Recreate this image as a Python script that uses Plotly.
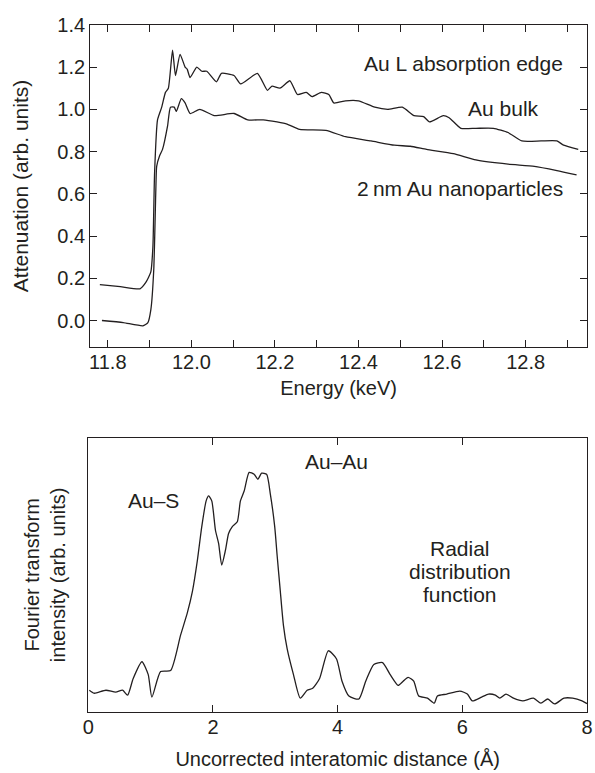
import plotly.graph_objects as go

# ---------------- data: top panel (XANES) ----------------
bulk_energy = [11.781, 11.830, 11.877, 11.891, 11.903, 11.908, 11.912, 11.919, 11.929, 11.938,
               11.945, 11.955, 11.962, 11.973, 11.985, 11.990, 11.997, 12.013, 12.025, 12.037,
               12.060, 12.072, 12.102, 12.118, 12.158, 12.182, 12.193, 12.212, 12.236, 12.254,
               12.275, 12.289, 12.311, 12.329, 12.341, 12.369, 12.400, 12.439, 12.470, 12.505,
               12.533, 12.556, 12.570, 12.603, 12.617, 12.645, 12.681, 12.723, 12.758, 12.791,
               12.837, 12.875, 12.891, 12.926]
bulk_atten = [0.170, 0.160, 0.150, 0.180, 0.230, 0.350, 0.700, 0.950, 1.010, 1.080,
              1.100, 1.280, 1.160, 1.260, 1.200, 1.190, 1.150, 1.200, 1.180, 1.180,
              1.130, 1.170, 1.160, 1.120, 1.170, 1.090, 1.110, 1.100, 1.135, 1.070,
              1.080, 1.060, 1.080, 1.070, 1.030, 1.040, 1.040, 1.010, 1.000, 1.010,
              0.970, 0.965, 0.940, 0.970, 0.960, 0.910, 0.910, 0.910, 0.890, 0.850,
              0.850, 0.850, 0.830, 0.810]

nano_energy = [11.786, 11.837, 11.884, 11.896, 11.903, 11.910, 11.915, 11.917, 11.924, 11.931,
               11.943, 11.950, 11.959, 11.964, 11.976, 11.985, 11.997, 12.020, 12.055, 12.102,
               12.135, 12.172, 12.205, 12.229, 12.259, 12.322, 12.369, 12.430, 12.486, 12.524,
               12.563, 12.627, 12.681, 12.758, 12.821, 12.875, 12.922]
nano_atten = [0.000, -0.010, -0.025, -0.010, 0.050, 0.240, 0.620, 0.730, 0.780, 0.810,
              0.920, 1.010, 1.010, 0.990, 1.050, 1.030, 0.980, 1.000, 0.970, 0.980,
              0.950, 0.950, 0.940, 0.930, 0.905, 0.900, 0.870, 0.850, 0.830, 0.825,
              0.810, 0.790, 0.760, 0.740, 0.730, 0.710, 0.690]

top_xtick_vals = [11.8, 11.9, 12.0, 12.1, 12.2, 12.3, 12.4, 12.5, 12.6, 12.7, 12.8, 12.9]
top_xtick_text = ["11.8", "", "12.0", "", "12.2", "", "12.4", "", "12.6", "", "12.8", ""]
top_ytick_vals = [0.0, 0.2, 0.4, 0.6, 0.8, 1.0, 1.2, 1.4]
top_ytick_text = ["0.0", "0.2", "0.4", "0.6", "0.8", "1.0", "1.2", "1.4"]

# ---------------- data: bottom panel (RDF) ----------------
rdf_r = [0.016, 0.094, 0.283, 0.44, 0.55, 0.63, 0.72, 0.86, 0.96, 1.02,
         1.16, 1.32, 1.48, 1.59, 1.67, 1.75, 1.82, 1.89, 1.93, 1.98,
         2.04, 2.09, 2.14, 2.20, 2.25, 2.31, 2.39, 2.44, 2.50, 2.58,
         2.66, 2.72, 2.78, 2.86, 2.92, 2.99, 3.03, 3.08, 3.13, 3.19,
         3.29, 3.40, 3.51, 3.60, 3.71, 3.85, 3.98, 4.07, 4.18, 4.34,
         4.45, 4.58, 4.72, 4.84, 4.97, 5.05, 5.13, 5.22, 5.30, 5.44,
         5.55, 5.60, 5.75, 5.96, 6.08, 6.16, 6.31, 6.42, 6.53, 6.60,
         6.70, 6.82, 6.97, 7.14, 7.26, 7.37, 7.48, 7.63, 7.77, 7.92, 8.0]
rdf_int = [0.079, 0.068, 0.079, 0.072, 0.079, 0.061, 0.122, 0.183, 0.137, 0.054,
           0.147, 0.151, 0.280, 0.363, 0.440, 0.554, 0.676, 0.770, 0.788, 0.770,
           0.662, 0.615, 0.536, 0.590, 0.651, 0.676, 0.694, 0.770, 0.806, 0.874,
           0.867, 0.849, 0.871, 0.867, 0.795, 0.676, 0.568, 0.440, 0.316, 0.230,
           0.137, 0.050, 0.079, 0.086, 0.122, 0.223, 0.194, 0.112, 0.058, 0.047,
           0.112, 0.173, 0.180, 0.137, 0.097, 0.112, 0.126, 0.112, 0.058, 0.050,
           0.032, 0.058, 0.065, 0.076, 0.065, 0.040, 0.054, 0.065, 0.061, 0.050,
           0.065, 0.050, 0.040, 0.050, 0.032, 0.047, 0.029, 0.050, 0.050, 0.040, 0.030]

bot_xtick_vals = [0, 2, 4, 6, 8]
bot_xtick_text = ["0", "2", "4", "6", "8"]

INK = "#231f20"
FONT = "Liberation Sans, Arial, Helvetica, sans-serif"

fig = go.Figure()
fig.add_trace(go.Scatter(x=bulk_energy, y=bulk_atten, mode="lines", xaxis="x", yaxis="y",
                         line=dict(color=INK, width=1.3, shape="spline", smoothing=0.5),
                         showlegend=False, name="Au bulk"))
fig.add_trace(go.Scatter(x=nano_energy, y=nano_atten, mode="lines", xaxis="x", yaxis="y",
                         line=dict(color=INK, width=1.3, shape="spline", smoothing=0.5),
                         showlegend=False, name="2 nm Au nanoparticles"))
fig.add_trace(go.Scatter(x=rdf_r, y=rdf_int, mode="lines", xaxis="x2", yaxis="y2",
                         line=dict(color=INK, width=1.3, shape="spline", smoothing=0.6),
                         showlegend=False, name="RDF"))

axis_common = dict(showline=True, linecolor=INK, linewidth=1.3, mirror="ticks",
                   ticks="inside", ticklen=7, tickwidth=1.2, tickcolor=INK,
                   showgrid=False, zeroline=False, ticklabeloverflow="allow",
                   tickfont=dict(family=FONT, size=20, color=INK))

fig.update_layout(
    width=595, height=773,
    margin=dict(l=0, r=0, t=0, b=0),
    paper_bgcolor="white", plot_bgcolor="white",
    font=dict(family=FONT, color=INK),
    xaxis=dict(domain=[0.1445, 0.9966], range=[11.758, 12.947],
               tickmode="array", tickvals=top_xtick_vals, ticktext=top_xtick_text,
               ticklabelstandoff=-3,
               title=dict(text="Energy (keV)", font=dict(family=FONT, size=20, color=INK), standoff=8),
               anchor="y", **axis_common),
    yaxis=dict(domain=[0.5589, 0.9819], range=[-0.126, 1.4],
               tickmode="array", tickvals=top_ytick_vals, ticktext=top_ytick_text,
               title=dict(text="Attenuation (arb. units)", font=dict(family=FONT, size=21, color=INK), standoff=22),
               anchor="x", **axis_common),
    xaxis2=dict(domain=[0.1412, 0.9966], range=[0, 8],
                tickmode="array", tickvals=bot_xtick_vals, ticktext=bot_xtick_text,
                ticklabelstandoff=-3,
                title=dict(text="Uncorrected interatomic distance (Å)", font=dict(family=FONT, size=20, color=INK), standoff=14),
                anchor="y2", **axis_common),
    yaxis2=dict(domain=[0.0802, 0.4398], range=[0, 1],
                showline=True, linecolor=INK, linewidth=1.3, mirror=True,
                ticks="", showticklabels=False, showgrid=False, zeroline=False,
                title=dict(text="Fourier transform<br>intensity (arb. units)", font=dict(family=FONT, size=20, color=INK), standoff=16),
                anchor="x2"),
)

ann_font = dict(family=FONT, size=21, color=INK)
fig.add_annotation(x=12.652, y=1.215, xref="x", yref="y", text="Au L absorption edge",
                   showarrow=False, font=ann_font)
fig.add_annotation(x=12.748, y=1.005, xref="x", yref="y", text="Au bulk",
                   showarrow=False, font=ann_font)
fig.add_annotation(x=12.642, y=0.625, xref="x", yref="y", text="2\u2009nm Au nanoparticles",
                   showarrow=False, font=ann_font)
fig.add_annotation(x=1.04, y=0.77, xref="x2", yref="y2", text="Au–S",
                   showarrow=False, font=ann_font)
fig.add_annotation(x=3.98, y=0.914, xref="x2", yref="y2", text="Au–Au",
                   showarrow=False, font=ann_font)
for txt, yy in [("Radial", 0.597), ("distribution", 0.514), ("function", 0.428)]:
    fig.add_annotation(x=5.96, y=yy, xref="x2", yref="y2", text=txt,
                       showarrow=False, font=ann_font)

fig.write_html("out.html")
